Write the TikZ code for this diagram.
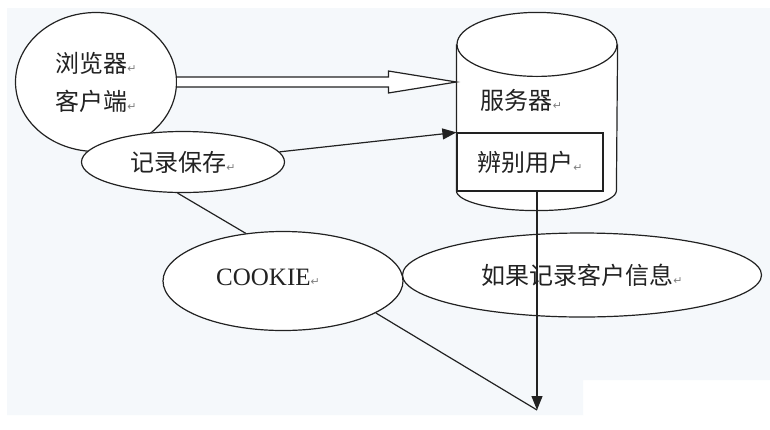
\documentclass[tikz,border=0pt]{standalone}
\usepackage{fontspec}
\setmainfont{Liberation Serif}
\newfontfamily\cjk{Noto Sans CJK SC}
\newfontfamily\symb{DejaVu Sans}
\usepackage{tikz}
\usetikzlibrary{arrows.meta, positioning, calc}
\usetikzlibrary{shapes}
\definecolor{ink}{HTML}{222222}
\definecolor{paper}{HTML}{F5F8FB}
\newcommand{\ret}{{\symb\fontsize{11}{11}\selectfont\textcolor{gray}{↵}}}

\begin{document}
\begin{tikzpicture}[x=1pt, y=-1pt, line width=1.2pt, color=ink,
  bubble/.style={draw, ellipse, fill=white, inner sep=0pt, font=\cjk\fontsize{24}{38}\selectfont},
  solidarrow/.style={-{Triangle[length=14pt, width=11pt]}}]
  % background
  \fill[white] (0,0) rectangle (770,429);
  \fill[paper] (7,8) -- (770,8) -- (770,380) -- (583,380) -- (583,415) -- (7,415) -- cycle;

  % client side
  \node[bubble, minimum width=161pt, minimum height=139pt, align=left] (browser) at (96,82) {浏览器\ret\\客户端\ret};
  \node[bubble, minimum width=203pt, minimum height=61pt] (rec) at (183,162) {记录保存\ret};
  \node[bubble, minimum width=240pt, minimum height=99pt, font=\fontsize{25}{25}\selectfont] (cookie) at (283,281) {\raisebox{8pt}{COOKIE\ret}\hspace*{30pt}};
  \node[bubble, minimum width=359pt, minimum height=84pt] (info) at (582,275) {如果记录客户信息\ret};

  % server cylinder
  \node[minimum width=160pt, minimum height=145pt] (server) at (537,117.5) {};
  \draw[fill=white] (server.north west) -- (server.south west) arc[start angle=180, end angle=360, x radius=80pt, y radius=20pt] -- (server.north east);
  \draw[fill=white] (server.north) ellipse [x radius=80pt, y radius=32pt];
  \node[anchor=west, font=\cjk\fontsize{24}{24}\selectfont] (srvname) at (477,100) {服务器\ret};
  \node[draw, fill=white, minimum width=146pt, minimum height=58pt, font=\cjk\fontsize{24}{24}\selectfont] (check) at (530,162) {辨别用户\ret};
  \coordinate (end) at (537,410);

  % request arrow
  \coordinate (a1) at (browser.east);
  \coordinate (a2) at (browser.east -| server.west);
  \draw[fill=white, line join=miter] ($(a1)+(0,-5)$) -- ($(a2)+(-68,-5)$) -- ($(a2)+(-68,-11)$) -- (a2)
    -- ($(a2)+(-68,11)$) -- ($(a2)+(-68,5)$) -- ($(a1)+(0,5)$);

  \draw[solidarrow] (rec.6) -- (check.north west);
  \draw[solidarrow] (check.south -| server.center) -- (end);
  \draw (rec.-100) -- (cookie.128);
  \draw (cookie.-19) -- (end);
\end{tikzpicture}
\end{document}
